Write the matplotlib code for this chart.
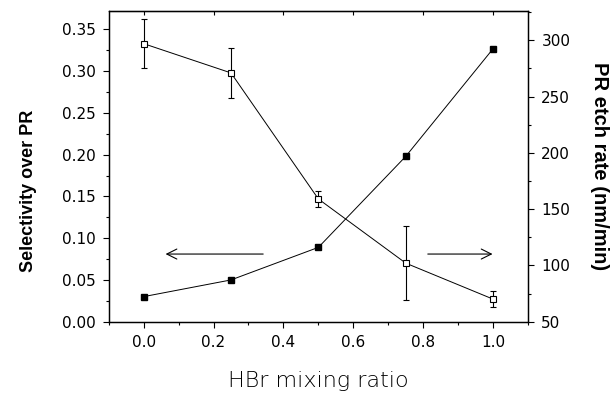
import numpy as np
import matplotlib.pyplot as plt
from matplotlib.ticker import MultipleLocator, FormatStrFormatter

plt.rcParams['font.family'] = ['DejaVu Sans']

hbr_ratio = [0.0, 0.25, 0.5, 0.75, 1.0]
selectivity = [0.030, 0.050, 0.089, 0.198, 0.327]
etch_rate = [297, 271, 159, 102, 70]
etch_err = [22, 22, 7, 33, 7]


def style_axis(ax):
    ax.tick_params(which='both', direction='out', width=0.8, labelsize=11, pad=5.5)
    ax.tick_params(which='major', length=4)
    ax.tick_params(which='minor', length=2.5)
    for s in ax.spines.values():
        s.set_linewidth(0.9)


fig = plt.figure(figsize=(6.12, 3.94), dpi=100)
ax = fig.add_axes([0.1775, 0.1835, 0.6855, 0.7886])
ax2 = ax.twinx()

ax.plot(hbr_ratio, selectivity, color='black', lw=0.7, marker='s', ms=4.5,
        mfc='black', mec='black')
ax2.errorbar(hbr_ratio, etch_rate, yerr=etch_err, color='black', lw=0.7,
             marker='s', ms=4, mfc='white', mec='black', mew=0.8,
             capsize=2.5, elinewidth=0.8, capthick=0.8)

ax.set_xlim(-0.1, 1.1)
ax.set_ylim(0, 0.372)
ax2.set_ylim(50, 326)

ax.xaxis.set_major_locator(MultipleLocator(0.2))
ax.xaxis.set_minor_locator(MultipleLocator(0.1))
ax.yaxis.set_major_locator(MultipleLocator(0.05))
ax.yaxis.set_minor_locator(MultipleLocator(0.025))
ax2.yaxis.set_major_locator(MultipleLocator(50))
ax2.yaxis.set_minor_locator(MultipleLocator(25))
ax.yaxis.set_major_formatter(FormatStrFormatter('%.2f'))
ax.xaxis.set_major_formatter(FormatStrFormatter('%.1f'))
style_axis(ax)
style_axis(ax2)

# top spine: short inward ticks, no labels
top = ax.secondary_xaxis('top')
top.xaxis.set_major_locator(MultipleLocator(0.2))
top.tick_params(direction='in', length=3, width=0.8, labeltop=False)

ax.set_xlabel('HBr mixing ratio', fontsize=16, fontweight='light', labelpad=15)
ax.set_ylabel('Selectivity over PR', family='Liberation Sans', fontsize=13,
              fontweight='bold')
ax.yaxis.set_label_coords(-0.17, 0.42)
ax2.set_ylabel('PR etch rate (nm/min)', family='Liberation Sans', fontsize=14.5,
               fontweight='bold', rotation=270, labelpad=28)

arrow = dict(arrowstyle='->', color='black', lw=0.8, mutation_scale=18)
ax.annotate('', xy=(0.055, 0.081), xytext=(0.35, 0.081), arrowprops=arrow)
ax.annotate('', xy=(1.006, 0.081), xytext=(0.805, 0.081), arrowprops=arrow)

fig.savefig('out.png', dpi=100)
